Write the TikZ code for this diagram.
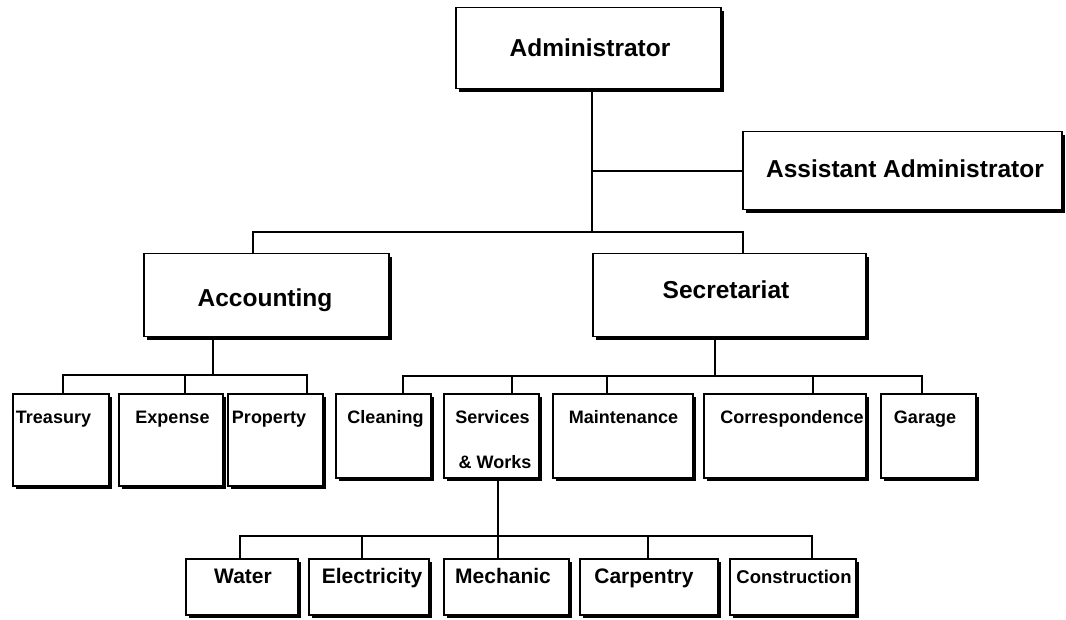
\documentclass[tikz,border=0pt]{standalone}
\usepackage{fontspec}
\setmainfont{Liberation Sans}
\usetikzlibrary{shadows}

% one boxed unit of the chart: name, top-left x, top-left y, width, height
\newcommand\orgbox[5]{%
  \node[unitbox, minimum width=#4pt, minimum height=#5pt] (#1) at (#2,#3) {};}

\begin{document}
\begin{tikzpicture}[x=1pt, y=-1pt,
  unitbox/.style={draw=black, fill=white, line width=1.5pt, inner sep=0pt,
    anchor=north west,
    drop shadow={shadow xshift=3.5pt, shadow yshift=-3.5pt, fill=black, opacity=1}},
  link/.style={draw=black, line width=1.6pt},
  bigtext/.style={font=\fontsize{24.5}{29}\selectfont\bfseries, inner sep=0pt, anchor=base},
  midtext/.style={font=\fontsize{18}{22}\selectfont\bfseries, inner sep=0pt, anchor=base},
  lowtext/.style={font=\fontsize{21}{25}\selectfont\bfseries, inner sep=0pt, anchor=base}]

\useasboundingbox (0,0) rectangle (1066,620);

% ---------- bus points ----------
\coordinate (jA) at (592,232);
\coordinate (aL) at (253,232);
\coordinate (aR) at (743,232);

\coordinate (bA) at (213,375);
\coordinate (bT) at (63,375);
\coordinate (bE) at (185,375);
\coordinate (bP) at (307,375);

\coordinate (cS)  at (715,376);
\coordinate (cC)  at (403,376);
\coordinate (cW)  at (512,376);
\coordinate (cM)  at (607,376);
\coordinate (cCo) at (813,376);
\coordinate (cG)  at (922,376);

\coordinate (dS)  at (498,536);
\coordinate (dW)  at (240,536);
\coordinate (dE)  at (362,536);
\coordinate (dC)  at (648,536);
\coordinate (dCo) at (812,536);

% ---------- boxes ----------
\orgbox{admin}{455}{7}{265}{81}
\orgbox{asst}{742}{131}{319}{78}
\orgbox{acct}{143}{253}{245}{83}
\orgbox{secr}{592}{253}{273}{83}

\orgbox{treas}{12}{393}{96}{92}
\orgbox{expense}{118}{393}{104}{92}
\orgbox{property}{227}{393}{95}{92}

\orgbox{cleaning}{335}{393}{95}{84}
\orgbox{services}{443}{393}{95}{84}
\orgbox{maint}{552}{393}{140}{84}
\orgbox{corr}{703}{393}{162}{84}
\orgbox{garage}{880}{393}{95}{84}

\orgbox{water}{185}{558}{112}{56}
\orgbox{elec}{308}{558}{120}{56}
\orgbox{mech}{443}{558}{125}{56}
\orgbox{carp}{579}{558}{138}{56}
\orgbox{constr}{729}{558}{126}{56}

% ---------- labels ----------
\node[bigtext] (admin-t) at (590,57)  {Administrator};
\node[bigtext] (asst-t)  at (905,178) {Assistant Administrator};
\node[bigtext] (acct-t)  at (265,307) {Accounting};
\node[bigtext] (secr-t)  at (726,299) {Secretariat};

\node[midtext] (treas-t)    at (53.5,423)  {Treasury};
\node[midtext] (expense-t)  at (172.5,423) {Expense};
\node[midtext] (property-t) at (269,423)   {Property};
\node[midtext] (cleaning-t) at (385.5,423) {Cleaning};
\node[midtext] (services-t) at (492.5,423) {Services};
\node[midtext] (works-t)    at (495,468)   {\& Works};
\node[midtext] (maint-t)    at (623.5,423) {Maintenance};
\node[midtext] (corr-t)     at (792,423)   {Correspondence};
\node[midtext] (garage-t)   at (925,423)   {Garage};

\node[lowtext] (water-t)  at (243,583) {Water};
\node[lowtext] (elec-t)   at (372,583) {Electricity};
\node[lowtext] (mech-t)   at (503,583) {Mechanic};
\node[lowtext] (carp-t)   at (644,583) {Carpentry};
\node[lowtext, font=\fontsize{18.5}{22}\selectfont\bfseries] (constr-t) at (794,583) {Construction};

% ---------- connectors ----------
\draw[link] (admin.south -| jA) -- (jA);
\draw[link] (jA |- asst.west) -- (asst.west);
\draw[link] (acct.north -| aL) -- (aL) -- (aR) -- (secr.north -| aR);

\draw[link] (acct.south -| bA) -- (bA);
\draw[link] (treas.north -| bT) -- (bT) -- (bP) -- (property.north -| bP);
\draw[link] (bE) -- (expense.north -| bE);

\draw[link] (secr.south -| cS) -- (cS);
\draw[link] (cleaning.north -| cC) -- (cC) -- (cG) -- (garage.north -| cG);
\draw[link] (cW) -- (services.north -| cW);
\draw[link] (cM) -- (maint.north -| cM);
\draw[link] (cCo) -- (corr.north -| cCo);

\draw[link] (services.south -| dS) -- (dS);
\draw[link] (water.north -| dW) -- (dW) -- (dCo) -- (constr.north -| dCo);
\draw[link] (dE) -- (elec.north -| dE);
\draw[link] (dS) -- (mech.north -| dS);
\draw[link] (dC) -- (carp.north -| dC);

\end{tikzpicture}
\end{document}
